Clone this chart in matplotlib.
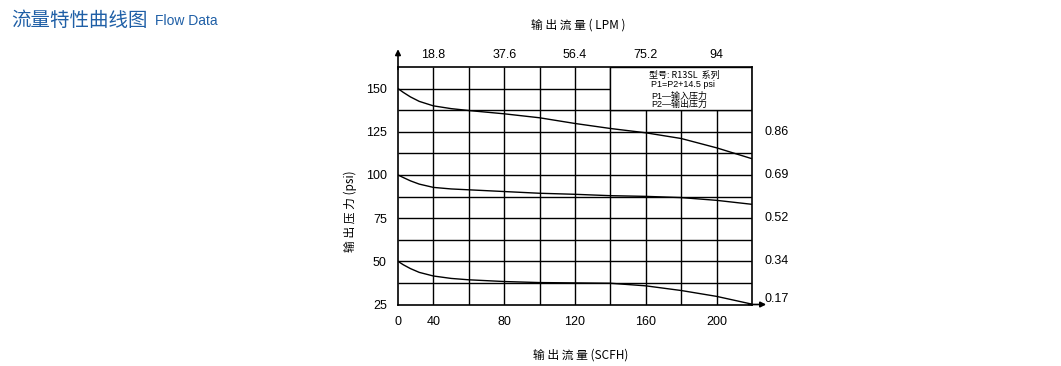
import matplotlib
matplotlib.use("Agg")
import matplotlib.pyplot as plt
from matplotlib import font_manager
from matplotlib.patches import Rectangle

# ---------------- data ----------------
flow_scfh = [0, 3, 7, 12, 20, 30, 40, 60, 80, 100, 120, 140, 160, 180, 200]
p_high = [150, 147.8, 145.2, 142.6, 140.0, 138.4, 137.3, 135.4, 133.1, 129.8, 126.9, 124.4, 121.1, 115.7, 109.4]
p_mid = [100, 98.5, 96.6, 94.7, 92.8, 91.9, 91.4, 90.4, 89.4, 88.8, 88.0, 87.6, 86.9, 85.3, 83.0]
p_low = [50, 48.0, 45.8, 43.6, 41.5, 40.1, 39.3, 38.3, 37.7, 37.5, 37.3, 35.8, 33.1, 29.7, 25.2]

scfh_tick_pos = [0, 20, 60, 100, 140, 180]
scfh_tick_labels = ["0", "40", "80", "120", "160", "200"]
lpm_tick_pos = [20, 60, 100, 140, 180]
lpm_tick_labels = ["18.8", "37.6", "56.4", "75.2", "94"]
psi_ticks = [25, 50, 75, 100, 125, 150]
mpa_pos = [125, 100, 75, 50, 28]
mpa_labels = ["0.86", "0.69", "0.52", "0.34", "0.17"]

# ---------------- fonts ----------------
avail = {f.name for f in font_manager.fontManager.ttflist}
num_font = "Liberation Sans Narrow" if "Liberation Sans Narrow" in avail else "Liberation Sans"
cjk = ["Noto Sans CJK SC", "DejaVu Sans"]
plt.rcParams["font.family"] = [num_font, "Noto Sans CJK SC", "DejaVu Sans"]

W, H = 1061, 366
fig = plt.figure(figsize=(W / 100, H / 100), dpi=100)
L, R, T, B = 398, 752, 67, 304.5
ax = fig.add_axes([L / W, 1 - B / H, (R - L) / W, (B - T) / H])

xmin, xmax = 0, 200
ymin, ymax = 25, 162.5
ax.set_xlim(xmin, xmax)
ax.set_ylim(ymin, ymax)

# grid
for gx in range(20, 200, 20):
    ax.plot([gx, gx], [ymin, ymax], color="black", lw=1.0, zorder=1, solid_capstyle="butt")
for k in range(1, 11):
    gy = 25 + 12.5 * k
    ax.plot([xmin, xmax], [gy, gy], color="black", lw=1.0, zorder=1, solid_capstyle="butt")

# legend box covering grid
ax.add_patch(Rectangle((120, 137.5), 80, 25, facecolor="white", edgecolor="black",
                       lw=1.0, zorder=2))
box_fs = 6.5
ax.text(162, 157.6, "型号: R13SL  系列", fontsize=box_fs, ha="center", va="center",
        family=cjk, zorder=3)
ax.text(143, 152.2, "P1=P2+14.5 psi", fontsize=box_fs, ha="left", va="center",
        family=[num_font, "DejaVu Sans"], zorder=3)
ax.text(143, 145.5, "P1—输入压力", fontsize=box_fs, ha="left", va="center",
        family=["Liberation Sans", "Noto Sans CJK SC"], zorder=3)
ax.text(143, 140.9, "P2—输出压力", fontsize=box_fs, ha="left", va="center",
        family=["Liberation Sans", "Noto Sans CJK SC"], zorder=3)

# curves
for ys in (p_high, p_mid, p_low):
    ax.plot(flow_scfh, ys, color="black", lw=1.0, zorder=4)

for s in ax.spines.values():
    s.set_color("black")
    s.set_linewidth(1.2)
    s.set_zorder(5)

ax.set_xticks(scfh_tick_pos)
ax.set_xticklabels(scfh_tick_labels)
ax.set_yticks(psi_ticks)
ax.set_yticklabels([str(v) for v in psi_ticks])
ax.tick_params(length=0, labelsize=9, pad=8)
ax.tick_params(axis="x", pad=8)

top = ax.secondary_xaxis("top")
top.set_xticks(lpm_tick_pos)
top.set_xticklabels(lpm_tick_labels)
top.tick_params(length=0, labelsize=9, pad=4)
top.spines["top"].set_visible(False)

tr = ax.get_yaxis_transform()
for p, lab in zip(mpa_pos, mpa_labels):
    ax.text(1.035, p, lab, transform=tr, fontsize=9, ha="left", va="center")

# arrows
ax.annotate("", xy=(0, 1.075), xytext=(0, 0.99), xycoords="axes fraction",
            arrowprops=dict(arrowstyle="-|>", color="black", lw=1.2,
                            mutation_scale=8, shrinkA=0, shrinkB=0), annotation_clip=False)
ax.annotate("", xy=(1.04, 0), xytext=(0.99, 0), xycoords="axes fraction",
            arrowprops=dict(arrowstyle="-|>", color="black", lw=1.2,
                            mutation_scale=8, shrinkA=0, shrinkB=0), annotation_clip=False)

# axis titles
fig.text(581 / W, 1 - 355 / H, "输 出 流 量 (SCFH)", fontsize=8.5, ha="center", va="center",
         family=cjk)
fig.text(578 / W, 1 - 25 / H, "输 出 流 量 ( LPM )", fontsize=8.5, ha="center", va="center",
         family=cjk)
fig.text(350 / W, 1 - 211 / H, "输 出 压 力 (psi)", fontsize=8.5, ha="center", va="center",
         rotation=90, family=cjk)

# page title
blue = "#1f5fa6"
fig.text(11 / W, 1 - 20 / H, "流量特性曲线图", fontsize=14, color=blue, ha="left",
         va="center", family=cjk)
fig.text(155 / W, 1 - 21 / H, "Flow Data", fontsize=10, color=blue, ha="left",
         va="center", family=["Liberation Sans", "DejaVu Sans"])

fig.savefig("out.png", dpi=100)
